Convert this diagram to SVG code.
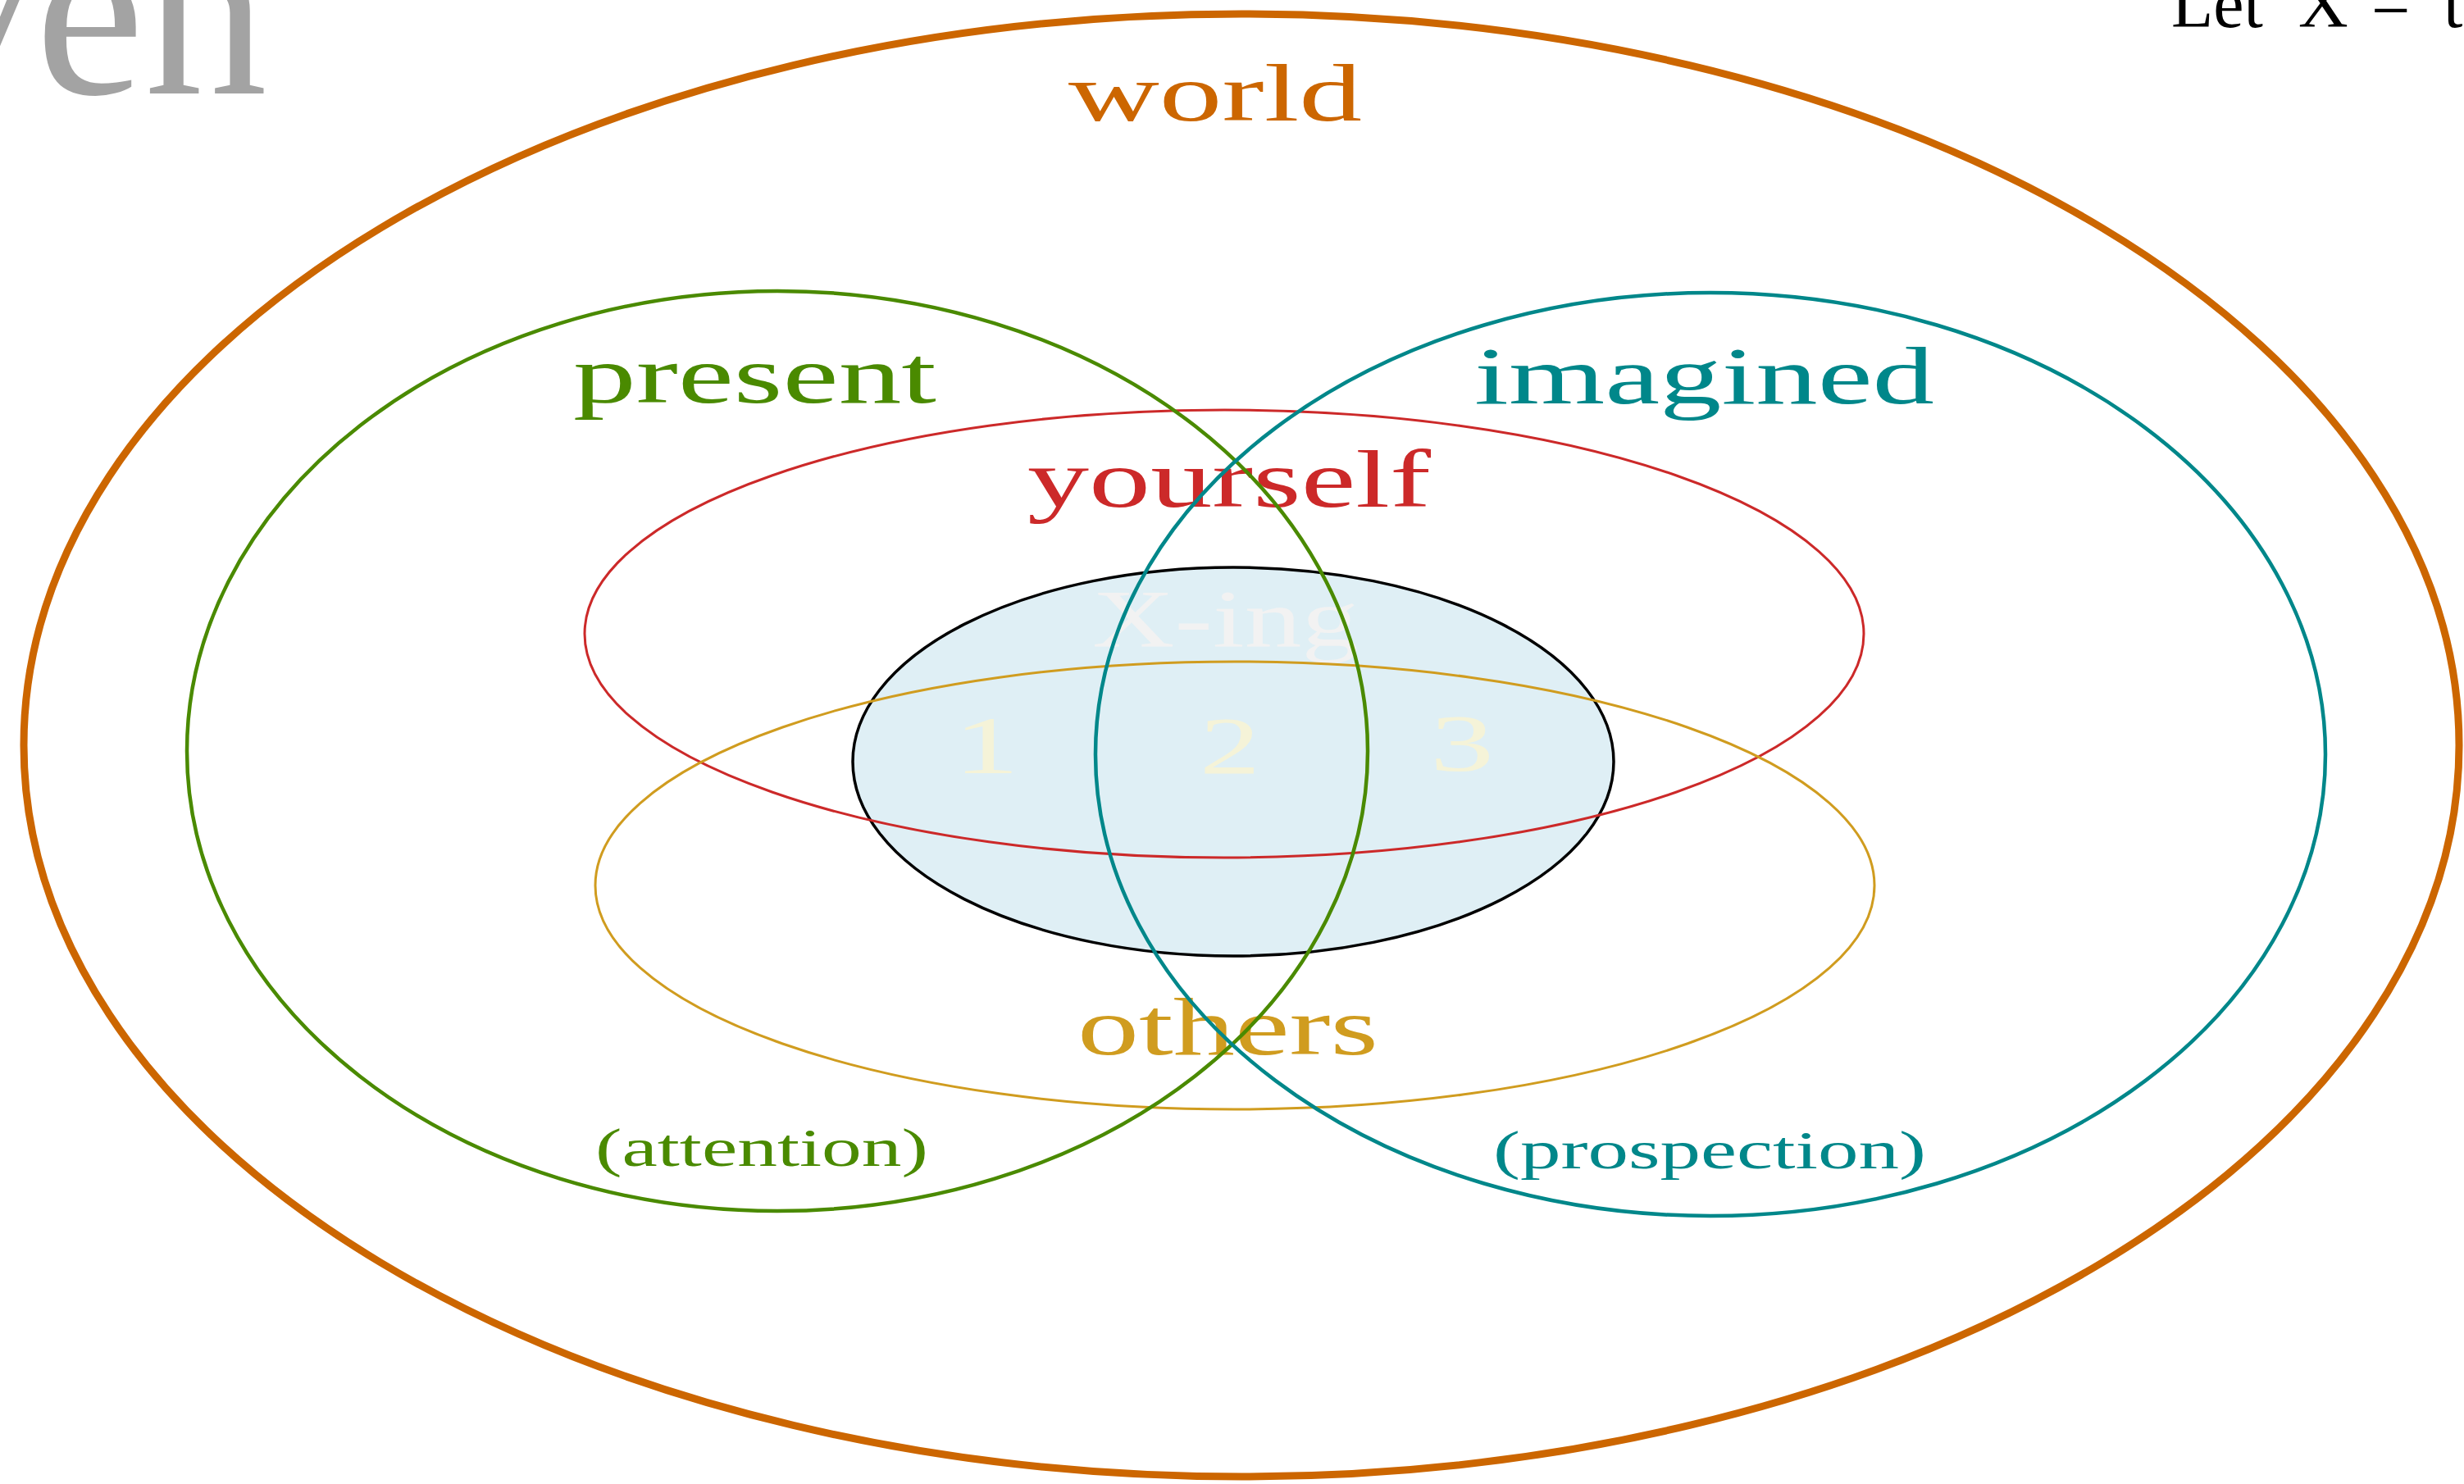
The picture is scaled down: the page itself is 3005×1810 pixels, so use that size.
<svg xmlns="http://www.w3.org/2000/svg" width="3005" height="1810" viewBox="0 0 3005 1810">
<style>
.lbl{font-family:"Liberation Serif","DejaVu Serif",serif;font-size:100px}
.sub{font-family:"Liberation Serif","DejaVu Serif",serif;font-size:66px}
.ring{fill:none}
</style>
<rect width="3005" height="1810" fill="#ffffff"/>
<text x="326" y="114" text-anchor="end" font-family="Liberation Serif, DejaVu Serif, serif" font-size="300" fill="#a3a3a3">ven</text>
<text y="33" font-family="Liberation Serif, DejaVu Serif, serif" font-size="84" fill="#000000"><tspan x="2648">Let</tspan><tspan x="2803">X</tspan><tspan x="2892">=</tspan><tspan x="2980">t</tspan></text>
<g id="world">
<ellipse cx="1514" cy="909" rx="1485" ry="892" fill="#ffffff" stroke="#cc6600" stroke-width="9"/>
<text class="lbl" x="1303" y="147" textLength="358" lengthAdjust="spacingAndGlyphs" fill="#cc6600">world</text>
</g>
<g id="xing">
<ellipse cx="1504" cy="929" rx="464" ry="237" fill="#dfeff5" stroke="#000000" stroke-width="3.5"/>
<text class="lbl" x="1332" y="788" textLength="325" lengthAdjust="spacingAndGlyphs" fill="#f2f2f2">X-ing</text>
<text class="lbl" x="1203" y="943" text-anchor="middle" textLength="80" lengthAdjust="spacingAndGlyphs" fill="#f5f3d8">1</text>
<text class="lbl" x="1500" y="943" text-anchor="middle" textLength="74" lengthAdjust="spacingAndGlyphs" fill="#f5f3d8">2</text>
<text class="lbl" x="1783" y="940" text-anchor="middle" textLength="78" lengthAdjust="spacingAndGlyphs" fill="#f5f3d8">3</text>
</g>
<g id="yourself">
<text class="lbl" x="1253" y="618" textLength="492" lengthAdjust="spacingAndGlyphs" fill="#cc2929">yourself</text>
<ellipse class="ring" cx="1493" cy="773" rx="780" ry="273" stroke="#cc2929" stroke-width="3"/>
</g>
<g id="others">
<text class="lbl" x="1314" y="1286" textLength="367" lengthAdjust="spacingAndGlyphs" fill="#d09c1f">others</text>
<ellipse class="ring" cx="1506" cy="1080" rx="780" ry="273" stroke="#d09c1f" stroke-width="3"/>
</g>
<g id="present">
<ellipse class="ring" cx="948" cy="916" rx="720" ry="561" stroke="#4a8a00" stroke-width="4.5"/>
<text class="lbl" x="699" y="491" textLength="443" lengthAdjust="spacingAndGlyphs" fill="#4a8a00">present</text>
<text class="sub" x="726" y="1422" textLength="406" lengthAdjust="spacingAndGlyphs" fill="#4a8a00">(attention)</text>
</g>
<g id="imagined">
<ellipse class="ring" cx="2086" cy="920" rx="750" ry="563" stroke="#00878a" stroke-width="4.5"/>
<text class="lbl" x="1798" y="492" textLength="561" lengthAdjust="spacingAndGlyphs" fill="#00878a">imagined</text>
<text class="sub" x="1821" y="1425" textLength="528" lengthAdjust="spacingAndGlyphs" fill="#00878a">(prospection)</text>
</g>
</svg>
